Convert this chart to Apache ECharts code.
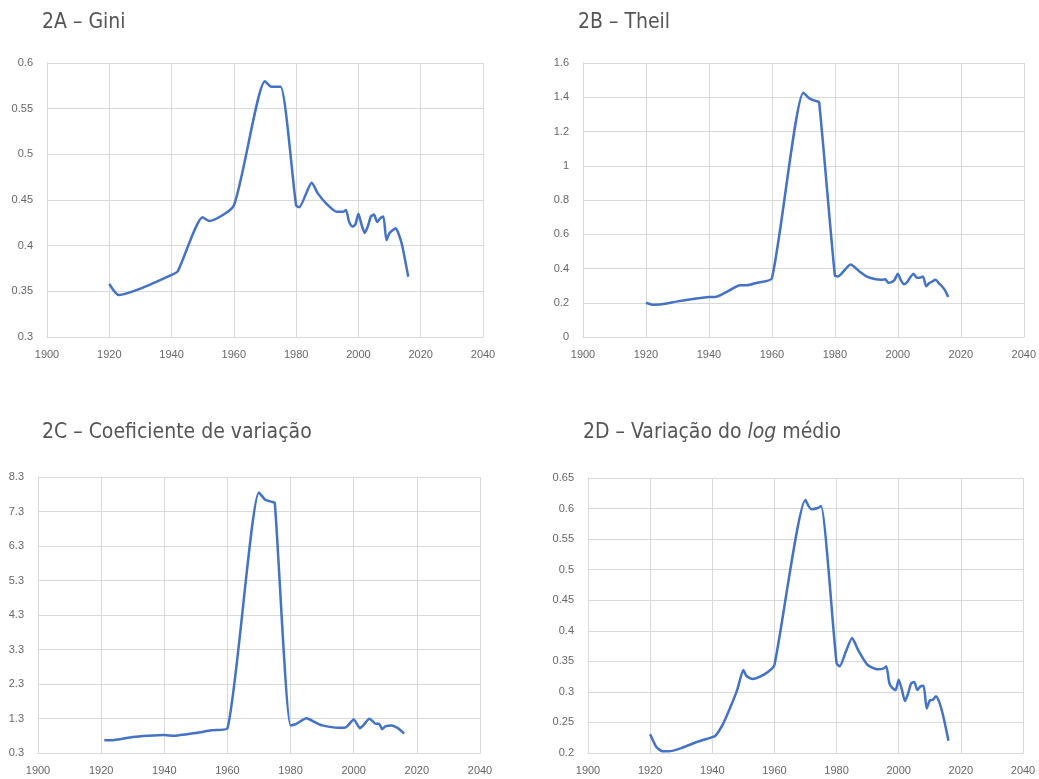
<!DOCTYPE html>
<html>
<head>
<meta charset="utf-8">
<script src="https://cdn.jsdelivr.net/npm/echarts@6/dist/echarts.min.js"></script>
<style>
html,body{margin:0;padding:0;background:#fff;}
#chart{width:1039px;height:779px;}
</style>
</head>
<body>
<div id="chart"></div>
<script>
// ---- Data ----
const titles = ['2A – Gini', '2B – Theil', '2C – Coeficiente de variação', '2D – Variação do {i|log} médio'];
const xTicks = [1900, 1920, 1940, 1960, 1980, 2000, 2020, 2040];

const yearsA = [1920,1923,1930,1940,1942,1950,1952,1960,1970,1972,1975,1980,1981,1985,1987,1990,1993,1995,1996,1997,1998,1999,2000,2001,2002,2003,2004,2005,2006,2007,2008,2009,2010,2011,2012,2013,2014,2015,2016];
const gini   = [0.358,0.346,0.353,0.368,0.372,0.431,0.427,0.444,0.580,0.574,0.574,0.444,0.442,0.469,0.457,0.445,0.437,0.437,0.439,0.426,0.421,0.423,0.435,0.423,0.414,0.421,0.432,0.434,0.426,0.430,0.432,0.406,0.414,0.417,0.419,0.412,0.401,0.384,0.366];

const yearsB = [1920,1922,1925,1930,1935,1940,1942,1945,1950,1952,1955,1960,1970,1972,1974,1975,1980,1981,1985,1988,1990,1993,1995,1996,1997,1998,1999,2000,2001,2002,2003,2004,2005,2006,2007,2008,2009,2010,2011,2012,2013,2014,2015,2016];
const theil  = [0.200,0.189,0.191,0.208,0.222,0.234,0.234,0.257,0.302,0.302,0.315,0.343,1.427,1.392,1.378,1.372,0.360,0.354,0.424,0.380,0.354,0.337,0.335,0.337,0.317,0.321,0.335,0.370,0.331,0.308,0.321,0.350,0.370,0.346,0.346,0.354,0.296,0.315,0.325,0.335,0.315,0.296,0.272,0.234];

const yearsC = [1921,1923,1930,1935,1940,1943,1945,1950,1955,1960,1970,1972,1974,1975,1980,1982,1985,1988,1990,1993,1995,1997,1998,2000,2002,2003,2005,2007,2008,2009,2010,2012,2014,2016];
const cv     = [0.667,0.667,0.764,0.80,0.82,0.80,0.82,0.88,0.957,1.015,7.85,7.64,7.58,7.55,1.10,1.15,1.31,1.18,1.10,1.05,1.03,1.03,1.08,1.27,1.02,1.10,1.29,1.15,1.15,0.99,1.07,1.10,1.02,0.86];
const yTicksC = [0.3, 1.3, 2.3, 3.3, 4.3, 5.3, 6.3, 7.3, 8.3];

const yearsD = [1920,1922,1924,1926,1930,1935,1940,1941,1943,1945,1948,1950,1951,1953,1955,1958,1960,1970,1971,1972,1974,1975,1980,1981,1983,1985,1987,1990,1993,1995,1996,1997,1998,1999,2000,2001,2002,2003,2004,2005,2006,2007,2008,2009,2010,2011,2012,2013,2014,2015,2016];
const logMean = [0.2306,0.2098,0.2027,0.2027,0.208,0.218,0.226,0.228,0.243,0.265,0.303,0.336,0.326,0.321,0.324,0.333,0.344,0.614,0.604,0.599,0.601,0.604,0.347,0.342,0.366,0.388,0.368,0.344,0.337,0.338,0.342,0.314,0.306,0.303,0.320,0.304,0.285,0.297,0.314,0.316,0.303,0.309,0.310,0.273,0.286,0.287,0.293,0.284,0.267,0.245,0.220];

// ---- Build ----
const pair = (xs, ys) => xs.map((x, i) => [x, ys[i]]);
const lineColor = '#4472C4';
const gridColor = '#d9d9d9';
const labelColor = '#666666';
const labelFont = 'Liberation Sans, Arial, sans-serif';

const grids = [
  {left: 47,  top: 63,  width: 436, height: 274},
  {left: 583, top: 63,  width: 442, height: 274},
  {left: 38,  top: 477, width: 442, height: 276},
  {left: 588, top: 478, width: 435, height: 275}
];

const yDefs = [
  {min: 0.3, max: 0.6, interval: 0.05},
  {min: 0, max: 1.6, interval: 0.2},
  {min: 0.3, max: 8.3, custom: yTicksC},
  {min: 0.2, max: 0.65, interval: 0.05}
];

const xAxes = grids.map((g, i) => ({
  type: 'value', gridIndex: i, min: xTicks[0], max: xTicks[xTicks.length - 1], interval: 20,
  axisLine: {show: true, lineStyle: {color: gridColor, width: 1}},
  axisTick: {show: false},
  splitLine: {show: true, lineStyle: {color: gridColor, width: 1}},
  axisLabel: {color: labelColor, fontSize: 11, fontFamily: labelFont, margin: 12, formatter: v => String(v)}
}));

const yAxes = yDefs.map((d, i) => {
  const ax = {
    type: 'value', gridIndex: i, min: d.min, max: d.max,
    axisLine: {show: true, lineStyle: {color: gridColor, width: 1}},
    axisTick: {show: false},
    splitLine: {show: true, lineStyle: {color: gridColor, width: 1}},
    axisLabel: {color: labelColor, fontSize: 11, fontFamily: labelFont, margin: 14}
  };
  if (d.custom) {
    ax.axisTick = {show: false, customValues: d.custom};
    ax.axisLabel.customValues = d.custom;
    ax.axisLabel.formatter = v => v.toFixed(1);
  } else {
    ax.interval = d.interval;
  }
  return ax;
});

const datasets = [pair(yearsA, gini), pair(yearsB, theil), pair(yearsC, cv), pair(yearsD, logMean)];
const series = datasets.map((data, i) => ({
  type: 'line', xAxisIndex: i, yAxisIndex: i, data: data,
  smooth: 0.2, showSymbol: false, symbol: 'none',
  lineStyle: {color: lineColor, width: 2.5}
}));

const titleFont = '"Liberation Sans Narrow", "DejaVu Sans Condensed", sans-serif';
const titlePos = [[42, 12], [578, 12], [42, 422], [583, 422]];
const title = titles.map((t, i) => ({
  text: t, left: titlePos[i][0], top: titlePos[i][1], padding: 0,
  textStyle: {
    fontFamily: titleFont, fontSize: 21, fontWeight: 'normal', color: '#555555',
    rich: {i: {fontFamily: titleFont, fontSize: 21, fontStyle: 'italic', color: '#555555'}}
  }
}));

const chart = echarts.init(document.getElementById('chart'));
chart.setOption({
  animation: false,
  backgroundColor: '#ffffff',
  title: title,
  grid: grids,
  xAxis: xAxes,
  yAxis: yAxes,
  series: series
});
</script>
</body>
</html>
